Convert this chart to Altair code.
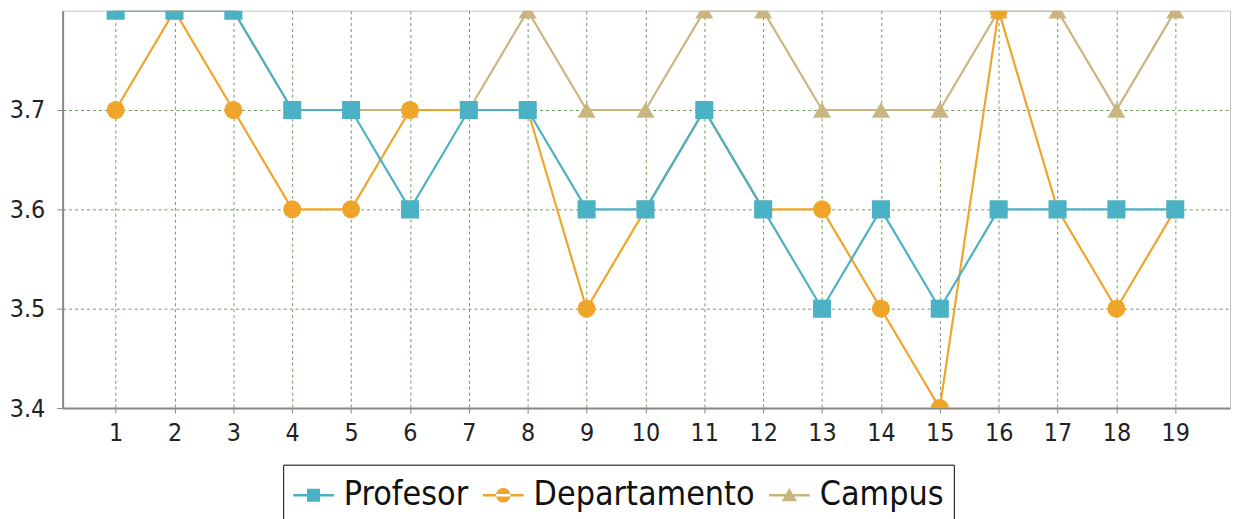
import altair as alt
import pandas as pd

x_vals = list(range(1, 20))
series_names = ["Profesor", "Departamento", "Campus"]
profesor = [3.8, 3.8, 3.8, 3.7, 3.7, 3.6, 3.7, 3.7, 3.6, 3.6, 3.7, 3.6, 3.5, 3.6, 3.5, 3.6, 3.6, 3.6, 3.6]
departamento = [3.7, 3.8, 3.7, 3.6, 3.6, 3.7, 3.7, 3.7, 3.5, 3.6, 3.7, 3.6, 3.6, 3.5, 3.4, 3.8, 3.6, 3.5, 3.6]
campus = [3.8, 3.8, 3.8, 3.7, 3.7, 3.7, 3.7, 3.8, 3.7, 3.7, 3.8, 3.8, 3.7, 3.7, 3.7, 3.8, 3.8, 3.7, 3.8]
y_ticks = [3.4, 3.5, 3.6, 3.7]

colors = ["#4BB1C4", "#EFA42A", "#C9B57F"]
shapes = ["square", "circle", "triangle-up"]
# legend symbols: line segment with marker
legend_paths = [
    "M-1,-0.06H1V0.06H-1Z M-0.32,-0.32H0.32V0.32H-0.32Z",
    "M-1,-0.06H1V0.06H-1Z M-0.36,0A0.36,0.36 0 1,0 0.36,0A0.36,0.36 0 1,0 -0.36,0Z",
    "M-1,-0.06H1V0.06H-1Z M0,-0.36L0.38,0.3L-0.38,0.3Z",
]

rows = []
for name, vals in zip(series_names, [profesor, departamento, campus]):
    for xv, yv in zip(x_vals, vals):
        rows.append({"x": xv, "valor": yv, "serie": name})
df = pd.DataFrame(rows)

font = "DejaVu Sans Condensed, Liberation Sans Narrow, DejaVu Sans"
x_enc = alt.X("x:Q", scale=alt.Scale(domain=[0.1, 19.93], nice=False, zero=False),
              axis=alt.Axis(values=x_vals, format="d", title=None))
y_enc = alt.Y("valor:Q", scale=alt.Scale(domain=[3.4, 3.8], nice=False, zero=False),
              axis=alt.Axis(values=y_ticks, format=".1f", title=None))

base = alt.Chart(df)
layers = []
draw_order = ["Campus", "Departamento", "Profesor"]
for name in draw_order:
    col = colors[series_names.index(name)]
    layers.append(
        base.transform_filter(alt.datum.serie == name)
        .mark_line(strokeWidth=2.2, clip=True, color=col)
        .encode(x=x_enc, y=y_enc)
    )
for name in draw_order:
    i = series_names.index(name)
    layers.append(
        base.transform_filter(alt.datum.serie == name)
        .mark_point(filled=True, size=330, opacity=1, clip=True, color=colors[i], shape=shapes[i])
        .encode(x=x_enc, y=y_enc)
    )
# legend carrier layer (zero-size marks)
layers.append(
    base.mark_point(filled=True, opacity=1, size=0, strokeWidth=0, clip=True)
    .encode(x=x_enc, y=y_enc,
            color=alt.Color("serie:N", scale=alt.Scale(domain=series_names, range=colors),
                            title=None, legend=alt.Legend(title=None)),
            shape=alt.Shape("serie:N", scale=alt.Scale(domain=series_names, range=legend_paths),
                            title=None, legend=alt.Legend(title=None)))
)

chart = alt.layer(*layers).properties(
    width=1175, height=400,
    autosize=alt.AutoSizeParams(type="none"),
    padding={"left": 55, "top": 1, "right": 3, "bottom": 110},
).configure_view(
    stroke="#c4c4c4", strokeWidth=1, fill="white"
).configure_axis(
    grid=True, gridColor="#6f9a5f", gridDash=[3, 3], gridWidth=1, gridOpacity=1,
    domainColor="#888888", domainWidth=2, tickColor="#888888", tickWidth=1,
    labelFont=font, labelFontSize=25, labelColor="#222222",
).configure_axisX(
    tickSize=5, labelPadding=8,
).configure_axisY(
    tickSize=6, labelPadding=12,
).configure_legend(
    orient="none", legendX=222, legendY=457, direction="horizontal", columns=3,
    labelFont=font, labelFontSize=34, labelColor="#111111", labelLimit=0,
    symbolSize=1681, symbolStrokeWidth=0, labelOffset=10, columnPadding=14,
    padding=10, strokeColor="black", fillColor="white", cornerRadius=0,
)

chart.save("out.html", embed_options={"renderer": "svg", "actions": False})
